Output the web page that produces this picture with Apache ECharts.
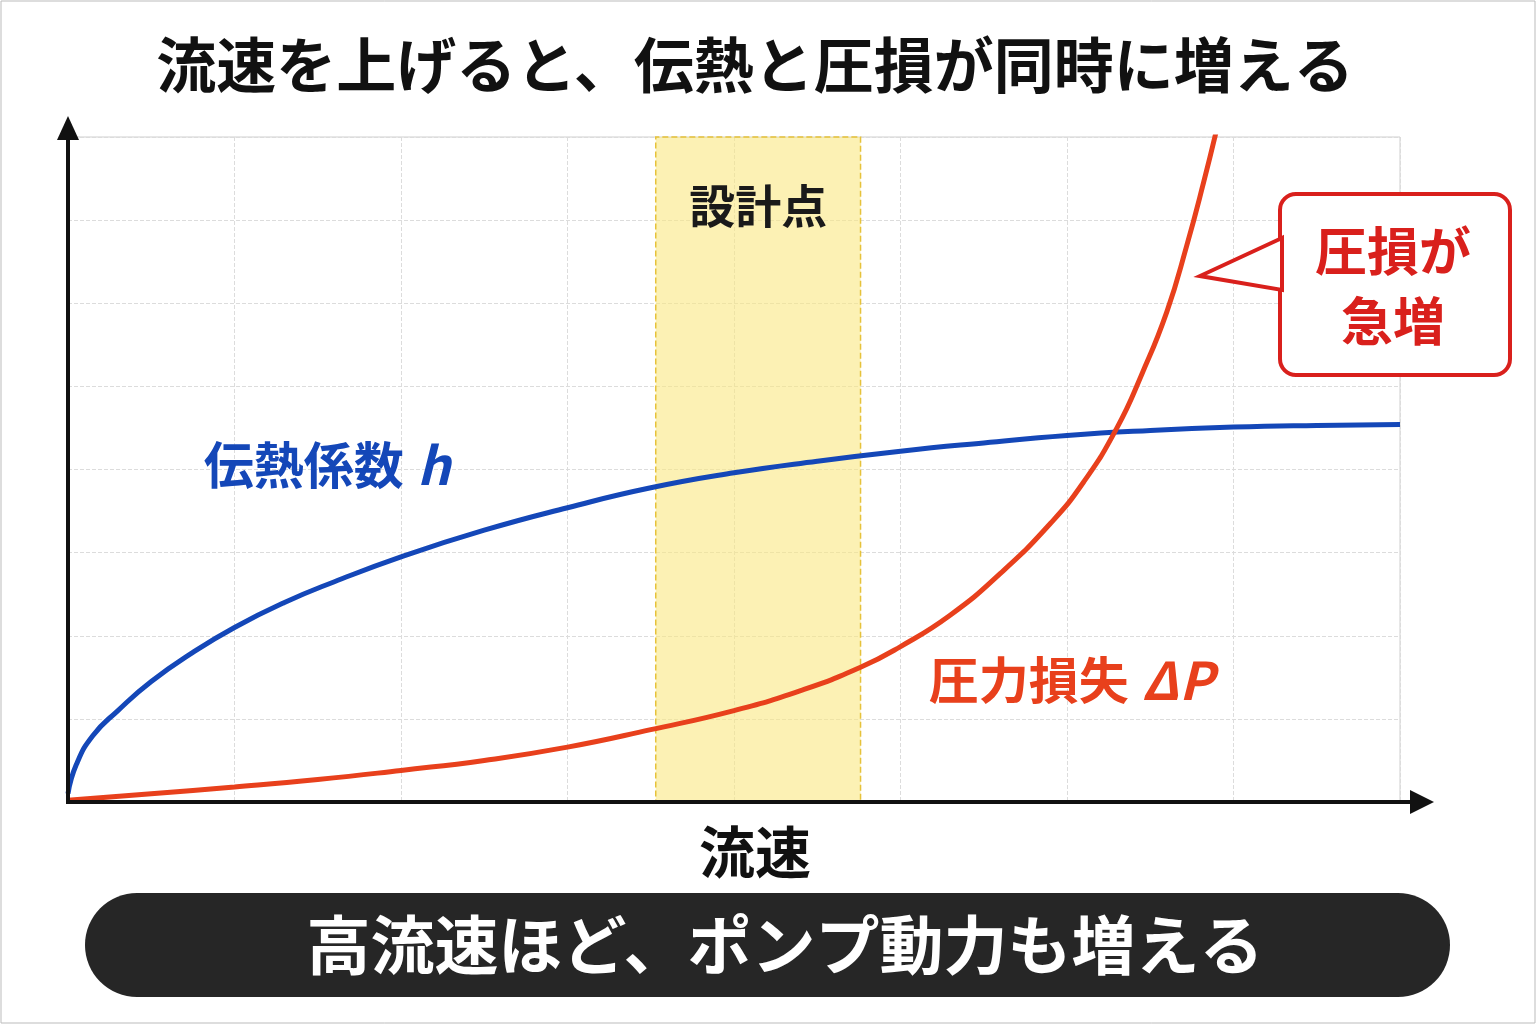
<!DOCTYPE html>
<html><head><meta charset="utf-8">
<script src="https://cdn.jsdelivr.net/npm/echarts@6/dist/echarts.min.js"></script>
<style>html,body{margin:0;padding:0;background:#fff}#c{width:1536px;height:1024px}</style>
</head><body><div id="c"></div>
<script>
const titleText = '流速を上げると、伝熱と圧損が同時に増える';
const xAxisName = '流速';
const bottomText = '高流速ほど、ポンプ動力も増える';
const designBand = [3.53, 4.76];
const heatX = [0, 0.05, 0.15, 0.3, 0.5, 0.75, 1.0, 1.3, 1.6, 2.0, 2.5, 3.0, 3.5, 4.0, 4.5, 5.0, 5.5, 6.0, 6.5, 7.0, 7.5, 8.0];
const heatY = [0.1, 0.45, 0.8, 1.1, 1.45, 1.8, 2.1, 2.4, 2.65, 2.95, 3.27, 3.54, 3.78, 3.96, 4.1, 4.22, 4.32, 4.41, 4.47, 4.51, 4.53, 4.54];
const dpX = [0, 0.5, 1, 1.5, 2, 2.5, 3, 3.5, 4, 4.4, 4.76, 5.0, 5.3, 5.6, 5.9, 6.1, 6.3, 6.45, 6.6, 6.72, 6.82, 6.9];
const dpY = [0.02, 0.1, 0.18, 0.27, 0.38, 0.5, 0.66, 0.87, 1.1, 1.34, 1.62, 1.87, 2.25, 2.75, 3.35, 3.85, 4.5, 5.15, 5.9, 6.7, 7.45, 8.1];
const zip = (a,b)=>a.map((v,i)=>[v,b[i]]);
const chart = echarts.init(document.getElementById('c'));
const F = '"Noto Sans CJK JP", "Noto Sans", sans-serif';
chart.setOption({
  backgroundColor:'#fff',
  grid:{left:68,right:136,top:137,bottom:222,show:true,borderColor:'#cfcfcf',borderWidth:1},
  xAxis:{type:'value',min:0,max:8,interval:1,axisLine:{show:false},axisTick:{show:false},axisLabel:{show:false},
    splitLine:{lineStyle:{type:'dashed',color:'#dcdcdc'}}},
  yAxis:{type:'value',min:0,max:8,interval:1,axisLine:{show:false},axisTick:{show:false},axisLabel:{show:false},
    splitLine:{lineStyle:{type:'dashed',color:'#dcdcdc'}}},
  series:[
    {type:'line',smooth:true,symbol:'none',data:zip(heatX,heatY),lineStyle:{color:'#1447b8',width:5},z:3,
     markArea:{silent:true,itemStyle:{color:'rgba(250,232,130,0.6)',borderColor:'#e6c23a',borderWidth:1.5,borderType:'dashed'},
       label:{show:true,position:'insideTop',distance:46,formatter:'設計点',fontFamily:F,fontWeight:'bold',fontSize:46,color:'#1a1a1a'},
       data:[[{xAxis:designBand[0]},{xAxis:designBand[1]}]]}},
    {type:'line',smooth:true,symbol:'none',data:zip(dpX,dpY),lineStyle:{color:'#e8401c',width:5},z:4,clip:true}
  ],
  graphic:[
    {type:'rect',shape:{x:1,y:1,width:1534,height:1022},style:{fill:'none',stroke:'#bbb',lineWidth:1}},
    {type:'text',x:755,y:65,style:{text:titleText,font:'bold 60px '+F,fill:'#111',textAlign:'center',textVerticalAlign:'middle'}},
    {type:'line',shape:{x1:68,y1:802,x2:1420,y2:802},style:{stroke:'#111',lineWidth:4},z:10},
    {type:'polygon',shape:{points:[[1434,802],[1410,790],[1410,814]]},style:{fill:'#111'},z:10},
    {type:'line',shape:{x1:68,y1:804,x2:68,y2:130},style:{stroke:'#111',lineWidth:4},z:10},
    {type:'polygon',shape:{points:[[68,116],[57,140],[79,140]]},style:{fill:'#111'},z:10},
    {type:'text',x:415,y:465,style:{text:'伝熱係数 ',font:'bold 50px '+F,fill:'#1447b8',textAlign:'right',textVerticalAlign:'middle'},z:10},
    {type:'text',x:417,y:465,style:{text:'h',font:'italic bold 52px '+F,fill:'#1447b8',textAlign:'left',textVerticalAlign:'middle'},z:10},
    {type:'text',x:1140,y:680,style:{text:'圧力損失 ',font:'bold 50px '+F,fill:'#e8401c',textAlign:'right',textVerticalAlign:'middle'},z:10},
    {type:'text',x:1142,y:680,style:{text:'ΔP',font:'italic bold 52px '+F,fill:'#e8401c',textAlign:'left',textVerticalAlign:'middle'},z:10},
    {type:'rect',shape:{x:1280,y:194,width:230,height:181,r:16},style:{fill:'#fff',stroke:'#d9201c',lineWidth:4},z:10},
    {type:'polygon',shape:{points:[[1282,238],[1200,276],[1282,290]]},style:{fill:'#fff',stroke:'#d9201c',lineWidth:4},z:11},
    {type:'rect',shape:{x:1284,y:241,width:8,height:46},style:{fill:'#fff'},z:12},
    {type:'text',x:1393,y:286,style:{text:'圧損が\n急増',font:'bold 52px '+F,lineHeight:70,fill:'#d9201c',textAlign:'center',textVerticalAlign:'middle'},z:12},
    {type:'text',x:755,y:852,style:{text:xAxisName,font:'bold 56px '+F,fill:'#111',textAlign:'center',textVerticalAlign:'middle'}},
    {type:'rect',shape:{x:85,y:893,width:1365,height:104,r:52},style:{fill:'#262626'}},
    {type:'text',x:785,y:945,style:{text:bottomText,font:'bold 64px '+F,fill:'#fff',textAlign:'center',textVerticalAlign:'middle'}}
  ]
});
</script></body></html>
